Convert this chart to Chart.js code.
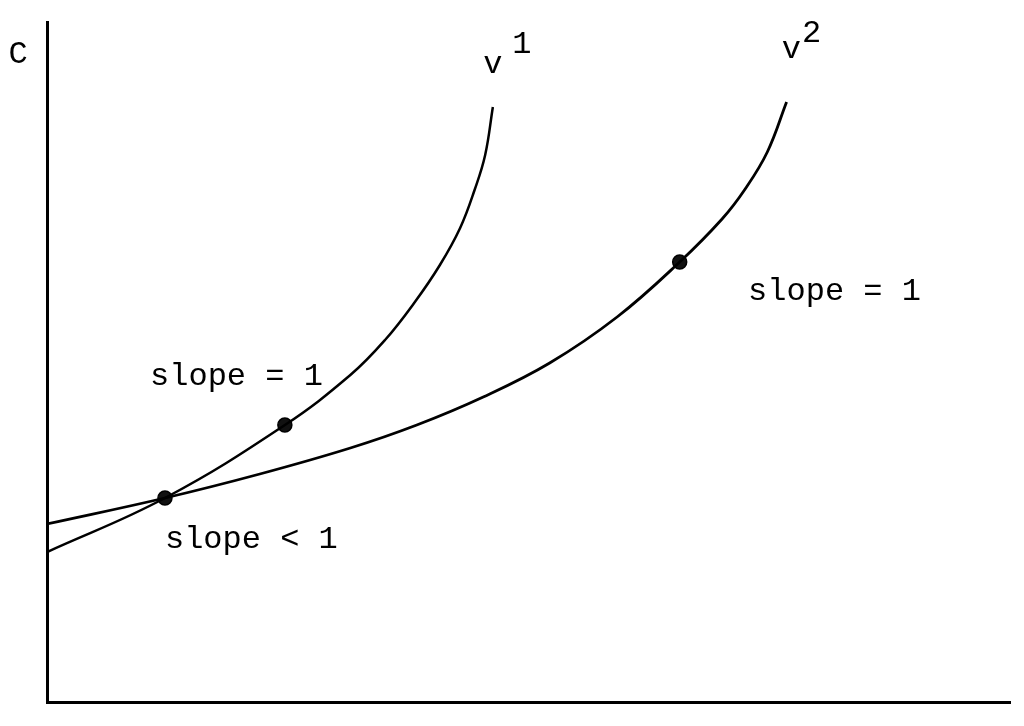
<!DOCTYPE html>
<html>
<head>
<meta charset="utf-8">
<title>v1 / v2 curves</title>
<script src="https://cdn.jsdelivr.net/npm/chart.js@4.4.0/dist/chart.umd.min.js"></script>
<style>
  html, body { margin: 0; padding: 0; background: #fff; }
  #wrap { width: 1024px; height: 726px; position: relative; }
</style>
</head>
<body>
<div id="wrap"><canvas id="chart"></canvas></div>
<script>
// --- data (arbitrary units) ---
const v1X = [0, 1.225, 2.47, 3.15, 3.51, 3.82, 4.08, 4.29, 4.44, 4.55, 4.63];
const v1Y = [1.50, 2.04, 2.77, 3.27, 3.62, 4.00, 4.37, 4.74, 5.12, 5.47, 5.95];

const v2X = [0, 1.225, 2.21, 3.15, 3.84, 4.53, 5.22, 5.92, 6.57, 7.01, 7.25, 7.48, 7.68];
const v2Y = [1.78, 2.04, 2.28, 2.54, 2.77, 3.05, 3.39, 3.85, 4.40, 4.83, 5.13, 5.50, 6.00];

// marked points: the crossing, slope = 1 on v1, slope = 1 on v2
const markX = [1.225, 2.47, 6.57];
const markY = [2.04, 2.77, 4.40];

// text annotations (anchor in data units, baseline)
const labelText = ['C', 'v', '1', 'v', '2', 'slope = 1', 'slope = 1', 'slope < 1'];
const labelX    = [-0.40, 4.53, 4.83, 7.63, 7.84, 1.07, 7.28, 1.225];
const labelY    = [6.39, 6.29, 6.49, 6.44, 6.60, 3.17, 4.02, 1.54];

const toPts = (xs, ys) => xs.map((x, i) => ({ x, y: ys[i] }));

// draws the typewriter labels through the scales
const labelsPlugin = {
  id: 'labels',
  afterDatasetsDraw(chart) {
    const { ctx, scales: { x, y } } = chart;
    ctx.save();
    ctx.fillStyle = '#000';
    ctx.font = "32px 'Liberation Mono', 'DejaVu Sans Mono', monospace";
    ctx.textBaseline = 'alphabetic';
    ctx.textAlign = 'left';
    labelText.forEach((t, i) => {
      ctx.fillText(t, x.getPixelForValue(labelX[i]), y.getPixelForValue(labelY[i]));
    });
    ctx.restore();
  }
};

const axisOpts = (min, max) => ({
  type: 'linear',
  min, max,
  grid: { display: false, drawTicks: false },
  ticks: { display: false },
  border: { display: true, color: '#000', width: 3 }
});

new Chart(document.getElementById('chart'), {
  type: 'scatter',
  data: {
    datasets: [
      {
        label: 'v1',
        data: toPts(v1X, v1Y),
        showLine: true,
        borderColor: '#000',
        borderWidth: 2.5,
        pointRadius: 0,
        tension: 0.4,
      },
      {
        label: 'v2',
        data: toPts(v2X, v2Y),
        showLine: true,
        borderColor: '#000',
        borderWidth: 2.8,
        pointRadius: 0,
        tension: 0.4,
      },
      {
        label: 'marks',
        data: toPts(markX, markY),
        showLine: false,
        pointRadius: 7,
        pointBackgroundColor: '#111',
        pointBorderColor: '#000',
        pointBorderWidth: 1.5,
      }
    ]
  },
  options: {
    responsive: true,
    maintainAspectRatio: false,
    animation: false,
    layout: { padding: { left: 47, right: 14, top: 22, bottom: 24 } },
    plugins: {
      legend: { display: false },
      tooltip: { enabled: false }
    },
    scales: {
      x: axisOpts(0, 10),
      y: axisOpts(0, 6.8)
    }
  },
  plugins: [labelsPlugin]
});
</script>
</body>
</html>
